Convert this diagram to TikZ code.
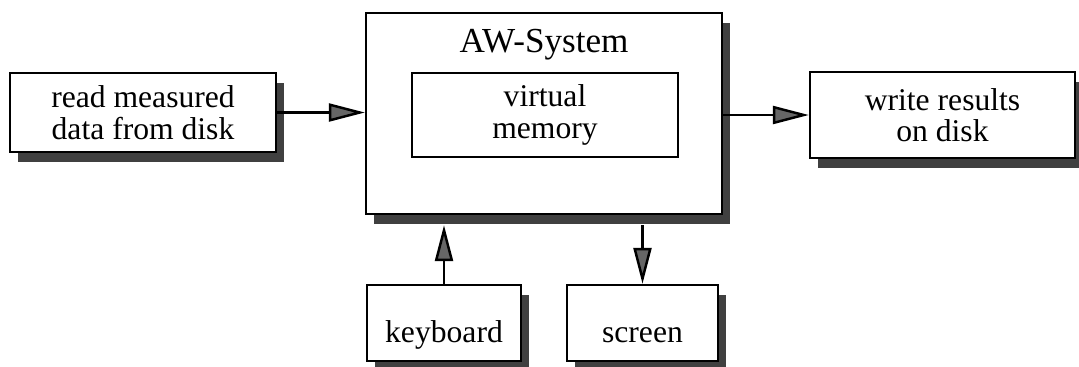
\documentclass[tikz,border=0pt]{standalone}
\usepackage{fontspec}
\setmainfont{Liberation Serif}
\usetikzlibrary{arrows.meta}
\usetikzlibrary{shadows}
\usetikzlibrary{calc}

\tikzset{
  txt/.style={font=\fontsize{18}{18}\selectfont},
  blk/.style={txt, draw=black, line width=1.4pt, fill=white, align=center, inner sep=0pt},
  shd/.style={drop shadow={shadow xshift=0.16cm, shadow yshift=-0.2cm, fill=black!75, opacity=1}},
  low/.style={text height=22pt, text depth=0pt},
  arr/.style={line width=1.4pt, -{Triangle[length=0.72cm,width=0.36cm,fill=black!60]}},
}

\begin{document}
\begin{tikzpicture}[x=0.02cm, y=-0.02cm]
\useasboundingbox (0,0) rectangle (1079,366);
\node[blk, shd, minimum width=5.32cm, minimum height=1.58cm] (read) at (143,112.5) {read measured\\data from disk};
\node[blk, shd, minimum width=7.12cm, minimum height=4.02cm,
      label={[font=\fontsize{20}{20}\selectfont, anchor=north, inner sep=0pt, yshift=-0.34cm]north:AW-System}] (aw) at (544,113.5) {};
\node[blk, minimum width=5.32cm, minimum height=1.68cm] (vm) at (545,115) {virtual\\memory};
\node[blk, shd, minimum width=5.3cm, minimum height=1.72cm] (write) at (942.5,115) {write results\\on disk};
\node[blk, shd, low, minimum width=3.08cm, minimum height=1.52cm] (kbd) at (444,323) {keyboard};
\node[blk, shd, low, minimum width=3.02cm, minimum height=1.52cm] (scr) at (642.5,323) {screen};
% connectors
\draw[arr] (read.east) -- (read.east -| aw.west);
\draw[arr] (write.west -| aw.east) -- (write.west);
\draw[arr, shorten >=0.2cm] (kbd.north) -- (kbd.north |- aw.south);
\draw[arr, shorten <=0.2cm] (scr.north |- aw.south) -- (scr.north);
\end{tikzpicture}
\end{document}
